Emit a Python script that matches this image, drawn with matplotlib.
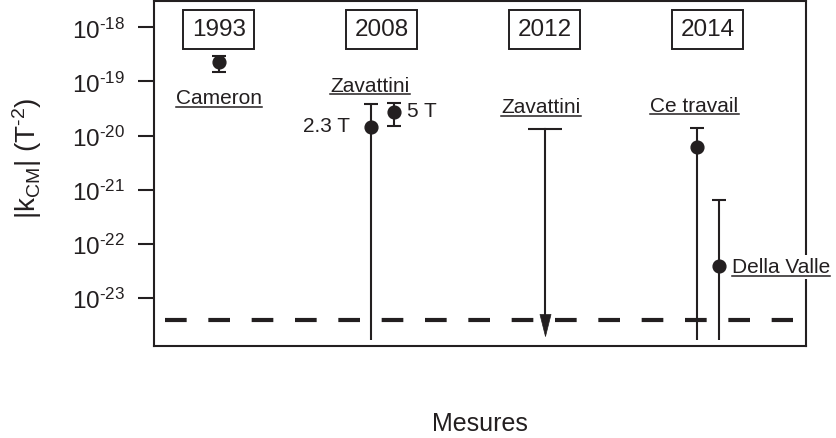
import numpy as np
import matplotlib
matplotlib.use("Agg")
import matplotlib.pyplot as plt
from matplotlib import transforms
from matplotlib.lines import Line2D
from matplotlib.path import Path
from matplotlib.ticker import FixedLocator, FuncFormatter, NullLocator

plt.rcParams["font.family"] = ["Liberation Sans", "DejaVu Sans"]
plt.rcParams["mathtext.fontset"] = "custom"
plt.rcParams["mathtext.rm"] = "Liberation Sans"
plt.rcParams["mathtext.it"] = "Liberation Sans:italic"
plt.rcParams["mathtext.bf"] = "Liberation Sans:bold"

INK = "#231f20"

# ---- data -------------------------------------------------------------
years = ["1993", "2008", "2012", "2014"]
year_pos = [1, 2, 3, 4]
tick_exponents = [-23, -22, -21, -20, -19, -18]

# 1993, Cameron
cameron_x = [1.0]
cameron_val = [2.26e-19]
cameron_hi = [3.0e-19]
cameron_lo = [1.48e-19]

# 2008, Zavattini (2.3 T and 5 T)
zav08_x = [1.933, 2.072]
zav08_val = [1.42e-20, 2.69e-20]
zav08_hi = [3.83e-20, 3.96e-20]
zav08_lo = [None, 1.52e-20]          # None: compatible with zero
zav08_fields = ["2.3 T", "5 T"]

# 2012, Zavattini (upper limit only)
zav12_x = [3.0]
zav12_limit = [1.32e-20]

# 2014, this work and Della Valle
y14_x = [3.933, 4.066]
y14_val = [6.08e-21, 3.96e-23]
y14_hi = [1.36e-20, 6.4e-22]
y14_lo = [None, None]

# predicted value (dashed line)
qed_value = 4.0e-24
qed_span = [0.67, 4.52]

# ---- figure -----------------------------------------------------------
fig = plt.figure(figsize=(8.37, 4.39), dpi=100)
ax = fig.add_axes([0.1834, 0.2102, 0.7792, 0.7852])
ax.set_yscale("log")
ymin, ymax = 10 ** -23.88, 10 ** -17.514
ax.set_ylim(ymin, ymax)
ax.set_xlim(0.6, 4.6)
floor = 10 ** -23.77      # where open-ended bars stop

LW = 1.5


def draw_points(xs, vals, his, los):
    for x, v, hi, lo in zip(xs, vals, his, los):
        bottom = floor if lo is None else lo
        ax.plot([x, x], [bottom, hi], color=INK, lw=LW, solid_capstyle="butt", zorder=3)
        ax.plot([x], [hi], marker="_", ms=9.4, mew=LW, color=INK, zorder=3)
        if lo is not None:
            ax.plot([x], [lo], marker="_", ms=9.4, mew=LW, color=INK, zorder=3)
        ax.plot([x], [v], marker="o", ms=9.2, color=INK, mec=INK, zorder=4)


draw_points(cameron_x, cameron_val, cameron_hi, cameron_lo)
draw_points(zav08_x, zav08_val, zav08_hi, zav08_lo)
draw_points(y14_x, y14_val, y14_hi, y14_lo)

# upper limit with downward arrow
arrow_head = Path([(0, 0), (-0.25, 1), (0.25, 1), (0, 0)],
                  [Path.MOVETO, Path.LINETO, Path.LINETO, Path.CLOSEPOLY])
arrow_tip = 10 ** -23.706
for x, lim in zip(zav12_x, zav12_limit):
    ax.plot([x, x], [arrow_tip * 1.5, lim], color=INK, lw=LW, zorder=3)
    ax.plot([x], [lim], marker="_", ms=25, mew=LW, color=INK, zorder=3)
    ax.plot([x], [arrow_tip], marker=arrow_head, ms=31.7, color=INK, mec=INK,
            mew=0.5, zorder=4)

# dashed reference line
ax.plot(qed_span, [qed_value, qed_value], color=INK, lw=3, dashes=(5.2, 5.2), zorder=2)

# ---- axes styling -----------------------------------------------------
ax.yaxis.set_major_locator(FixedLocator([10.0 ** e for e in tick_exponents]))
ax.yaxis.set_minor_locator(NullLocator())
ax.yaxis.set_major_formatter(
    FuncFormatter(lambda v, p: r"$\mathregular{10^{\text{-%d}}}$" % abs(int(round(np.log10(v))))))
ax.tick_params(axis="y", direction="out", length=11.5, width=LW, pad=9,
               labelsize=17.5, color=INK, labelcolor=INK)
ax.tick_params(axis="x", bottom=False, labelbottom=False)
for s in ax.spines.values():
    s.set_linewidth(LW)
    s.set_color(INK)

ax.set_xlabel("Mesures", fontsize=18, color=INK)
ax.xaxis.set_label_coords(0.5, -0.19)
ax.set_ylabel(r"$\mathregular{|k_{CM}|\ (T^{\text{-}2})}$", fontsize=20, color=INK)
ax.yaxis.set_label_coords(-0.168, 0.547)

blend = transforms.blended_transform_factory(ax.transData, ax.transAxes)

# year boxes
for pos, yr in zip(year_pos, years):
    ax.text(pos, 0.918, yr, transform=blend, ha="center", va="center",
            fontsize=17.5, color=INK,
            bbox=dict(boxstyle="square,pad=0.35", fc="white", ec=INK, lw=1.4))

# labels
LFS = 15
underlined = []
underlined.append(ax.text(1.0, 0.703, "Cameron", transform=blend, ha="center",
                          va="baseline", fontsize=LFS, color=INK))
underlined.append(ax.text(1.928, 0.7397, "Zavattini", transform=blend, ha="center",
                          va="baseline", fontsize=LFS, color=INK))
underlined.append(ax.text(2.976, 0.678, "Zavattini", transform=blend, ha="center",
                          va="baseline", fontsize=LFS, color=INK))
underlined.append(ax.text(3.918, 0.6818, "Ce travail", transform=blend, ha="center",
                          va="baseline", fontsize=LFS, color=INK))
underlined.append(ax.text(4.148, 0.2138, "Della Valle", transform=blend, ha="left",
                          va="baseline", fontsize=LFS, color=INK, clip_on=False,
                          zorder=6,
                          bbox=dict(boxstyle="square,pad=0.12", fc="white", ec="none")))

ax.text(1.806, 0.6241, zav08_fields[0], transform=blend, ha="right",
        va="baseline", fontsize=LFS, color=INK)
ax.text(2.156, 0.6664, zav08_fields[1], transform=blend, ha="left",
        va="baseline", fontsize=LFS, color=INK)

# underline the labels
fig.canvas.draw()
renderer = fig.canvas.get_renderer()
inv = fig.transFigure.inverted()
for t in underlined:
    bb = t.get_window_extent(renderer)
    baseline = t.get_transform().transform(t.get_position())[1]
    yline = baseline - 3.7
    (x0, y0), (x1, _) = inv.transform([(bb.x0, yline), (bb.x1, yline)])
    fig.add_artist(Line2D([x0, x1], [y0, y0], transform=fig.transFigure,
                          color=INK, lw=1.1, zorder=7))

fig.savefig("out.png", dpi=100)
